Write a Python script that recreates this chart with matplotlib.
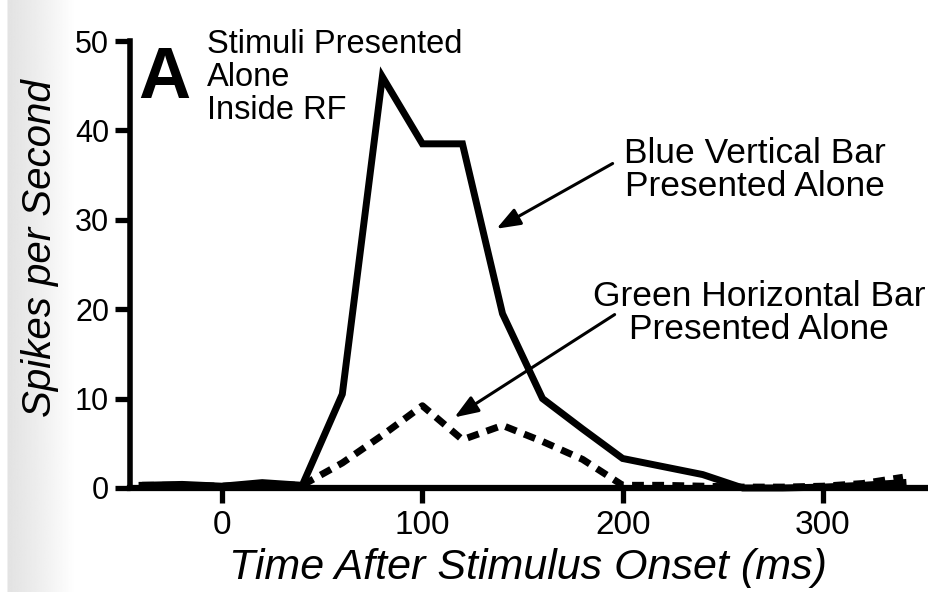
import matplotlib.pyplot as plt
import numpy as np

# time bins (ms) and firing rates (spikes/s)
t = [-40, -20, 0, 20, 40, 60, 80, 100, 120, 140, 160, 180, 200, 220, 240, 260, 280, 300, 320, 340]
blue_alone = [0.3, 0.4, 0.2, 0.6, 0.3, 10.5, 46, 38.5, 38.5, 19.5, 10, 6.6, 3.3, 2.4, 1.5, 0.0, 0.0, 0.1, 0.3, 0.6]
green_alone = [0.3, 0.3, 0.2, 0.4, 0.3, 2.8, 5.9, 9.2, 5.4, 7.0, 5.2, 3.2, 0.3, 0.3, 0.2, 0.1, 0.1, 0.2, 0.5, 1.2]

xticks = [0, 100, 200, 300]
yticks = [0, 10, 20, 30, 40, 50]

plt.rcParams['font.family'] = ['Liberation Sans', 'DejaVu Sans']

fig = plt.figure(figsize=(9.29, 5.92), dpi=100)

# faint grey strip of the scanned page on the left edge
bg = fig.add_axes([0, 0, 0.08, 1], zorder=-5)
xs = np.linspace(0, 1, 200)
grad = np.tile(np.where(xs < 0.1, 1.0, 0.89 + 0.11 * np.clip((xs - 0.1) / 0.9, 0, 1) ** 1.2), (2, 1))
bg.imshow(grad, cmap='gray', vmin=0, vmax=1, aspect='auto', extent=[0, 1, 0, 1])
bg.axis('off')

ax = fig.add_axes([0.14, 0.1757, 0.8557, 0.755])
ax.patch.set_alpha(0)

ax.plot(t, blue_alone, color='black', lw=5, solid_joinstyle='miter', clip_on=False)
ax.plot(t, green_alone, color='black', lw=5, ls=(0, (1.7, 1.2)), clip_on=False)

ax.set_xlim(-46, 351)
ax.set_ylim(0, 50)
ax.set_xticks(xticks)
ax.set_yticks(yticks)
ax.spines['top'].set_visible(False)
ax.spines['right'].set_visible(False)
ax.spines['left'].set_linewidth(4)
ax.spines['bottom'].set_linewidth(4.5)
ax.tick_params(axis='y', direction='out', length=11, width=3.8, labelsize=22, pad=4)
ax.tick_params(axis='x', direction='out', length=11, width=3.8, labelsize=24, pad=5)

ax.set_xlabel('Time After Stimulus Onset (ms)', fontsize=31, style='italic', labelpad=5)
ax.set_ylabel('Spikes per Second', fontsize=29, style='italic')
ax.yaxis.set_label_coords(-0.09, 0.537)

ax.text(-42, 43.6, 'A', fontsize=52, fontweight='bold', ha='left', va='baseline')
ax.text(-7.5, 51.3, 'Stimuli Presented\nAlone\nInside RF', fontsize=23.5, ha='left', va='top',
        linespacing=1.08)

ax.text(266, 35.6, 'Blue Vertical Bar\nPresented Alone', fontsize=25.5, ha='center', va='center',
        linespacing=1.0)
ax.text(268, 19.6, 'Green Horizontal Bar\nPresented Alone', fontsize=25.5, ha='center', va='center',
        linespacing=1.0)

arrow = dict(arrowstyle='-|>,head_length=0.8,head_width=0.3', color='black', lw=2.2,
             mutation_scale=18, shrinkA=0, shrinkB=0)
ax.annotate('', xy=(137, 29), xytext=(195, 36.3), arrowprops=arrow)
ax.annotate('', xy=(116, 7.9), xytext=(196, 19.4), arrowprops=arrow)

fig.savefig('out.png', dpi=100)
